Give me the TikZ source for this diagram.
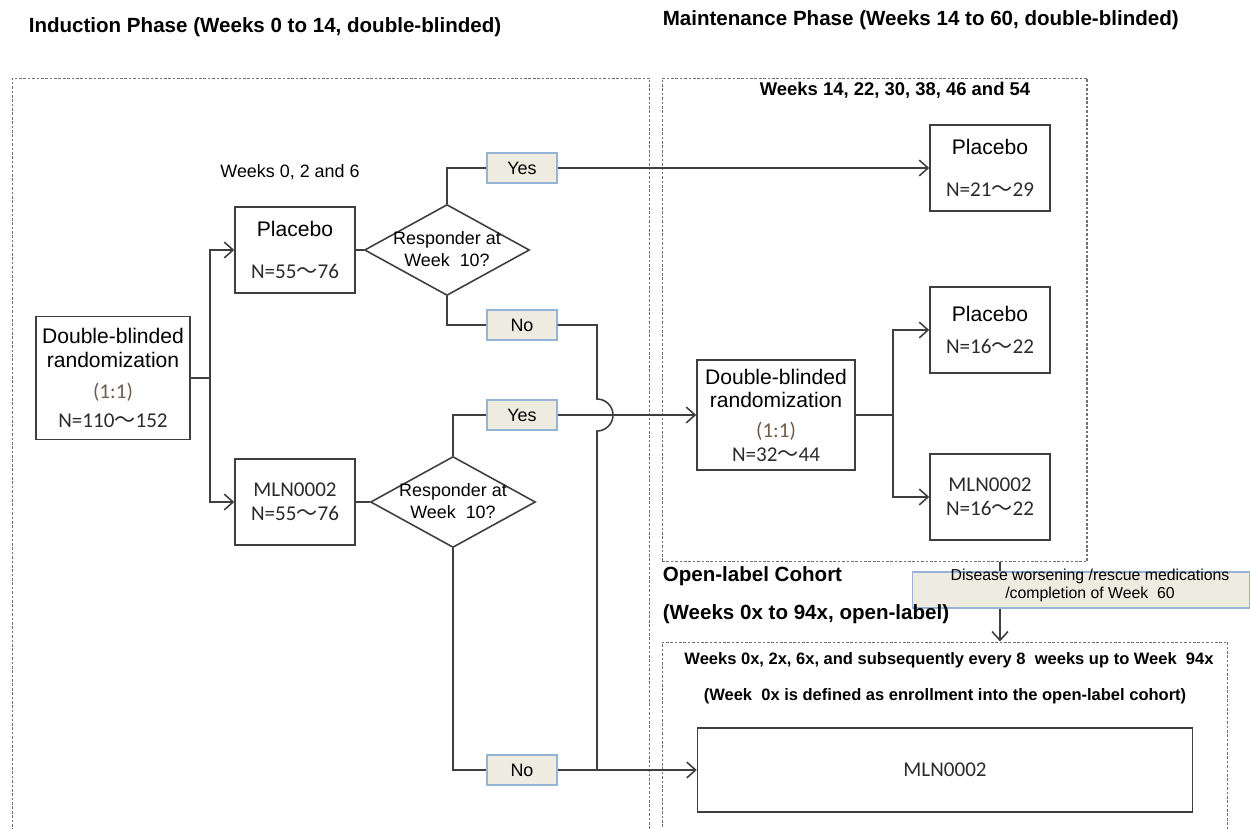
\documentclass[tikz,border=0pt]{standalone}
\usepackage{fontspec}
\setmainfont{Liberation Sans}
\newfontfamily\calfont{Carlito}
\newfontfamily\cjkfont{Noto Sans CJK SC}
\usepackage{tikz}
\usetikzlibrary{positioning}
\usetikzlibrary{arrows.meta}
\usetikzlibrary{shapes.geometric}

\definecolor{linegrey}{HTML}{3F3F3F}
\definecolor{framegrey}{HTML}{707070}
\definecolor{tagfill}{HTML}{EEECE1}
\definecolor{tagline}{HTML}{95B3D7}
\definecolor{ratiobrown}{HTML}{6D5D4B}
\definecolor{numgrey}{HTML}{2B2B2B}

\newcommand{\headtxt}{\fontsize{11.7}{13.5}\bfseries\selectfont}
\newcommand{\bigtxt}{\fontsize{12}{13.6}\selectfont}
\newcommand{\smalltxt}{\fontsize{10.2}{12.4}\selectfont}
\newcommand{\wave}{{\cjkfont ～}}
\newcommand{\nnum}[1]{{\calfont\color{numgrey}#1}}
\newcommand{\ratio}{{\calfont\color{ratiobrown}(1:1)}}

\begin{document}
\begin{tikzpicture}[
            x = 0.02cm, y = -0.02cm, % one unit = one pixel of the layout
            > = {Straight Barb[length=5pt,width=9pt]}, % open arrow head
            line width = 0.9pt,
            draw = linegrey
        ]

        \tikzstyle{phase}=[
            draw = framegrey,
            line width = 0.6pt,
            dash pattern = on 1.5pt off 1pt
        ]
        \tikzstyle{arm}=[
            draw = linegrey,
            fill = white,
            align = center,
            font = \bigtxt,
            minimum width = 2.4cm,
            minimum height = 1.72cm
        ]
        \tikzstyle{check}=[
            diamond,
            draw = linegrey,
            fill = white,
            inner sep = 0pt,
            minimum width = 3.3cm,
            minimum height = 1.82cm
        ]
        \tikzstyle{tag}=[
            draw = tagline,
            fill = tagfill,
            line width = 0.6pt,
            font = \smalltxt,
            minimum width = 1.4cm,
            minimum height = 0.6cm
        ]
        \tikzstyle{head}=[anchor = west, font = \headtxt, inner sep = 0pt]

        \useasboundingbox (0,0) rectangle (1250,828);
        \clip (0,0) rectangle (1250,828);

	% titles and frames
        \node[head] (tind) at (28,27) {Induction Phase (Weeks 0 to 14, double-blinded)};
        \node[head] (tmnt) at (662,20) {Maintenance Phase (Weeks 14 to 60, double-blinded)};
        \node[head] (tol) at (662,576) {Open-label Cohort};

        \node[phase, minimum width = 12.76cm, minimum height = 15.44cm] (induct) at (331,464) {};
        \node[phase, minimum width = 8.5cm, minimum height = 9.68cm] (maint) at (874.5,320) {};
        \node[phase, minimum width = 11.32cm, minimum height = 4.2cm] (ol) at (945,747) {};

        \node[font = \fontsize{10.5}{12}\bfseries\selectfont] (wkm) at (895,90) {Weeks 14, 22, 30, 38, 46 and 54};
        \node[font = \smalltxt] (wki) at (290,172) {Weeks 0, 2 and 6};
        \node[font = \fontsize{9.4}{11}\bfseries\selectfont] (wko) at (949,660) {Weeks 0x, 2x, 6x, and subsequently every 8\ \ weeks up to Week\ \ 94x};
        \node[font = \fontsize{9.4}{11}\bfseries\selectfont] (wkd) at (945,696) {(Week\ \ 0x is defined as enrollment into the open-label cohort)};

	% induction phase
        \node[arm, minimum width = 3.06cm, minimum height = 2.46cm] (rand1) at (113,378)
            {Double-blinded\\randomization\\[4pt]\ratio\\[3pt]\nnum{N=110\wave152}};
        \coordinate (split1) at (210,378);

        \node[arm] (plc1) at (295,250) {Placebo\\[10pt]\nnum{N=55\wave76}};
        \node[arm] (mln1) at (295,502) {\nnum{MLN0002}\\\nnum{N=55\wave76}};

        \draw (rand1.east) -- (split1);
        \draw[->] (split1) |- (plc1.west);
        \draw[->] (split1) |- (mln1.west);

        \node[check] (resp1) at (447,250) {};
        \node[font = \smalltxt, align = center] (q1) at (447,249) {Responder at\\Week\ \ 10?};
        \node[check] (resp2) at (453,502) {};
        \node[font = \smalltxt, align = center] (q2) at (453,501) {Responder at\\Week\ \ 10?};

        \draw (plc1.east) -- (resp1.west);
        \draw (mln1.east) -- (resp2.west);

        \node[tag] (yes1) at (522,168) {Yes};
        \node[tag] (no1) at (522,325) {No};
        \node[tag] (yes2) at (522,415) {Yes};
        \node[tag] (no2) at (522,770) {No};

        \draw (resp1.north) |- (yes1.west);
        \draw (resp1.south) |- (no1.west);
        \draw (resp2.north) |- (yes2.west);
        \draw (resp2.south) |- (no2.west);

	% maintenance phase
        \node[arm] (plc2) at (990,168) {Placebo\\[10pt]\nnum{N=21\wave29}};
        \node[arm, minimum width = 3.16cm, minimum height = 2.2cm] (rand2) at (776,415)
            {Double-blinded\\randomization\\[3pt]\ratio\\[0pt]\nnum{N=32\wave44}};
        \coordinate (split2) at (893,415);
        \node[arm] (plc3) at (990,330) {Placebo\\[5pt]\nnum{N=16\wave22}};
        \node[arm] (mln2) at (990,497) {\nnum{MLN0002}\\\nnum{N=16\wave22}};

        \draw (rand2.east) -- (split2);
        \draw[->] (split2) |- (plc3.west);
        \draw[->] (split2) |- (mln2.west);

	% open-label cohort
        \node[arm, minimum width = 9.9cm, minimum height = 1.68cm] (mln3) at (945,770) {\nnum{MLN0002}};

        \coordinate (drop) at (1000,562);
        \draw[->] (drop) -- (drop |- ol.north);
        \node[tag, minimum width = 6.74cm, minimum height = 0.72cm] (worse) at (1081,590) {};
        \node[align = center, font = \fontsize{9}{10.2}\selectfont, inner sep = 0pt] (worsetxt) at (1090,585)
            {Disease worsening /rescue medications\\/completion of Week\ \ 60};
        \node[head] (tolw) at (662,614) {(Weeks 0x to 94x, open-label)};

	% responders and non-responders
        \draw[->] (yes1.east) -- (plc2.west);
        \draw[->] (yes2.east) -- (rand2.west);
        \coordinate (hop) at (597,399);
        \coordinate (merge) at (597,770);
        \draw (no1.east) -| (hop) arc[start angle = 90, end angle = -90, radius = 0.32cm] -- (merge);
        \draw[->] (no2.east) -- (mln3.west);

  \end{tikzpicture}
\end{document}
